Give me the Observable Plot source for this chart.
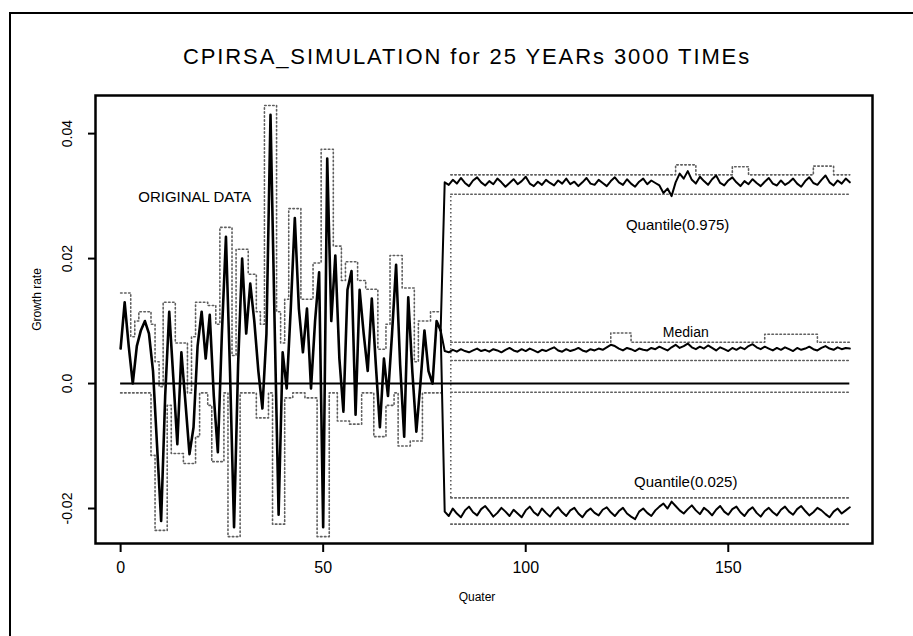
<!DOCTYPE html>
<html>
<head>
<meta charset="utf-8">
<script src="https://cdn.jsdelivr.net/npm/d3@7"></script>
<script src="https://cdn.jsdelivr.net/npm/@observablehq/plot@0.6"></script>
<style>
  body { margin: 0; background: #fff; font-family: "Liberation Sans", Arial, sans-serif; }
  #wrap { position: relative; width: 913px; height: 636px; overflow: hidden; background: #fff; }
  #border { position: absolute; left: 9px; top: 12px; width: 1000px; height: 700px;
            border-left: 2px solid #000; border-top: 2px solid #000; pointer-events: none; }
  #title { position: absolute; left: 0; top: 44px; width: 934px; text-align: center;
           font-size: 22px; line-height: 26px; letter-spacing: 1.9px; color: #000; }
  #chart { position: absolute; left: 0; top: 0; }
</style>
</head>
<body>
<div id="wrap">
  <div id="border"></div>
  <div id="chart"></div>
  <div id="title">CPIRSA_SIMULATION for 25 YEARs 3000 TIMEs</div>
</div>
<script>
// ---------------- DATA ----------------
// Original quarterly growth rate, quarters 0..79
const original = [
  0.0056, 0.0130, 0.0060, 0.0000, 0.0060, 0.0085, 0.0100, 0.0080, 0.0020, -0.0100,
  -0.0220, -0.0020, 0.0115, 0.0010, -0.0097, 0.0050, -0.0030, -0.0113, -0.0070, 0.0060,
  0.0115, 0.0040, 0.0110, -0.0020, -0.0110, 0.0080, 0.0235, 0.0020, -0.0230, 0.0030,
  0.0200, 0.0080, 0.0160, 0.0100, 0.0020, -0.0040, 0.0080, 0.0430, 0.0100, -0.0210,
  0.0050, -0.0008, 0.0120, 0.0265, 0.0120, 0.0050, 0.0120, -0.0008, 0.0100, 0.0178,
  -0.0230, 0.0360, 0.0100, 0.0205, 0.0040, -0.0045, 0.0150, 0.0180, -0.0050, 0.0150,
  0.0080, 0.0020, 0.0136, 0.0030, -0.0070, 0.0040, -0.0020, 0.0080, 0.0190, 0.0030,
  -0.0085, 0.0138, 0.0020, -0.0077, 0.0000, 0.0085, 0.0020, 0.0000, 0.0100, 0.0085
];
// Dotted band around original data (upper / lower), quarters 0..79
const originalHi = [
  0.0145, 0.0145, 0.0145, 0.0075, 0.0100, 0.0115, 0.0115, 0.0115, 0.0095, 0.0035,
  -0.0005, 0.0130, 0.0130, 0.0130, 0.0065, 0.0065, 0.0065, -0.0015, 0.0075, 0.0130,
  0.0130, 0.0130, 0.0125, 0.0125, 0.0095, 0.0250, 0.0250, 0.0250, 0.0045, 0.0215,
  0.0215, 0.0215, 0.0175, 0.0175, 0.0115, 0.0095, 0.0445, 0.0445, 0.0445, 0.0115,
  0.0065, 0.0135, 0.0280, 0.0280, 0.0280, 0.0135, 0.0135, 0.0135, 0.0193, 0.0193,
  0.0375, 0.0375, 0.0375, 0.0220, 0.0220, 0.0165, 0.0195, 0.0195, 0.0195, 0.0165,
  0.0165, 0.0151, 0.0151, 0.0151, 0.0055, 0.0055, 0.0095, 0.0205, 0.0205, 0.0205,
  0.0153, 0.0153, 0.0153, 0.0035, 0.0100, 0.0100, 0.0100, 0.0115, 0.0115, 0.0115
];
const originalLo = [
  -0.0015, -0.0015, -0.0015, -0.0015, -0.0015, -0.0015, -0.0015, -0.0015, -0.0115, -0.0235,
  -0.0235, -0.0235, -0.0035, -0.0112, -0.0112, -0.0112, -0.0128, -0.0128, -0.0128, -0.0085,
  -0.0015, -0.0015, -0.0035, -0.0125, -0.0125, -0.0125, -0.0015, -0.0245, -0.0245, -0.0245,
  -0.0015, -0.0015, -0.0015, -0.0015, -0.0055, -0.0055, -0.0055, -0.0015, -0.0225, -0.0225,
  -0.0225, -0.0023, -0.0023, -0.0015, -0.0015, -0.0015, -0.0023, -0.0023, -0.0023, -0.0245,
  -0.0245, -0.0245, -0.0015, -0.0015, -0.0060, -0.0060, -0.0060, -0.0065, -0.0065, -0.0065,
  -0.0015, -0.0015, -0.0015, -0.0085, -0.0085, -0.0085, -0.0035, -0.0035, -0.0015, -0.0100,
  -0.0100, -0.0100, -0.0092, -0.0092, -0.0092, -0.0015, -0.0015, -0.0015, -0.0015, -0.0015
];

// Simulation, quarters 80..180
const simStartQuarter = 80;
const quantile975 = [
  0.0322, 0.0318, 0.0326, 0.0320, 0.0329, 0.0321, 0.0316, 0.0325, 0.0330, 0.0322,
  0.0317, 0.0324, 0.0319, 0.0328, 0.0322, 0.0315, 0.0321, 0.0327, 0.0319, 0.0324,
  0.0331, 0.0320, 0.0316, 0.0323, 0.0318, 0.0326, 0.0321, 0.0317, 0.0325, 0.0320,
  0.0328, 0.0319, 0.0323, 0.0316, 0.0322, 0.0329, 0.0320, 0.0318, 0.0326, 0.0321,
  0.0316, 0.0324, 0.0330, 0.0322, 0.0318, 0.0327, 0.0320, 0.0315, 0.0323, 0.0328,
  0.0319, 0.0325, 0.0321, 0.0317, 0.0305, 0.0312, 0.0300, 0.0322, 0.0336, 0.0328,
  0.0340, 0.0326, 0.0320, 0.0331, 0.0324, 0.0318, 0.0327, 0.0333, 0.0321, 0.0317,
  0.0325, 0.0330, 0.0322, 0.0316, 0.0324, 0.0319, 0.0327, 0.0321, 0.0316, 0.0323,
  0.0329, 0.0320, 0.0317, 0.0325, 0.0318, 0.0322, 0.0328, 0.0320, 0.0315, 0.0324,
  0.0330, 0.0321, 0.0318, 0.0326, 0.0333, 0.0322, 0.0317, 0.0325, 0.0320, 0.0328,
  0.0322
];
const median = [
  0.0052, 0.0050, 0.0054, 0.0051, 0.0055, 0.0052, 0.0050, 0.0053, 0.0056, 0.0052,
  0.0054, 0.0051, 0.0055, 0.0053, 0.0050, 0.0054, 0.0057, 0.0053, 0.0051, 0.0055,
  0.0052, 0.0056, 0.0053, 0.0050, 0.0054, 0.0052, 0.0055, 0.0058, 0.0053, 0.0051,
  0.0055, 0.0052, 0.0054, 0.0057, 0.0053, 0.0051, 0.0055, 0.0053, 0.0056, 0.0054,
  0.0058, 0.0062, 0.0060, 0.0056, 0.0053, 0.0057, 0.0055, 0.0052, 0.0056, 0.0054,
  0.0053, 0.0057, 0.0055, 0.0059, 0.0056, 0.0053, 0.0058, 0.0062, 0.0057, 0.0060,
  0.0064, 0.0058, 0.0055, 0.0059, 0.0056, 0.0061, 0.0057, 0.0053, 0.0058, 0.0055,
  0.0052, 0.0057, 0.0054, 0.0058, 0.0055, 0.0060, 0.0063, 0.0058, 0.0055, 0.0059,
  0.0056, 0.0053, 0.0057, 0.0054, 0.0058, 0.0055, 0.0052, 0.0057, 0.0054, 0.0056,
  0.0059, 0.0055, 0.0053, 0.0057, 0.0060, 0.0056, 0.0054, 0.0058, 0.0055, 0.0057,
  0.0056
];
const quantile025 = [
  -0.0205, -0.0212, -0.0200, -0.0208, -0.0214, -0.0203, -0.0197, -0.0206, -0.0211, -0.0201,
  -0.0196, -0.0204, -0.0213, -0.0207, -0.0199, -0.0205, -0.0212, -0.0202, -0.0208, -0.0214,
  -0.0203, -0.0197, -0.0206, -0.0211, -0.0200, -0.0207, -0.0213, -0.0204, -0.0198, -0.0206,
  -0.0212, -0.0203, -0.0199, -0.0208, -0.0214, -0.0205, -0.0200, -0.0207, -0.0211, -0.0202,
  -0.0198, -0.0206, -0.0212, -0.0204, -0.0199, -0.0208, -0.0213, -0.0217, -0.0205, -0.0200,
  -0.0207, -0.0212, -0.0203, -0.0197, -0.0192, -0.0200, -0.0189, -0.0196, -0.0203, -0.0208,
  -0.0201, -0.0195, -0.0203, -0.0209, -0.0199, -0.0204, -0.0211, -0.0202, -0.0196, -0.0205,
  -0.0210, -0.0201, -0.0197, -0.0206, -0.0212, -0.0203, -0.0198, -0.0207, -0.0213, -0.0204,
  -0.0199, -0.0206, -0.0211, -0.0202, -0.0197, -0.0205, -0.0210, -0.0201, -0.0196, -0.0204,
  -0.0211, -0.0206, -0.0199, -0.0203, -0.0209, -0.0214, -0.0205, -0.0200, -0.0208, -0.0203,
  -0.0198
];

// Dotted simulation bands (step knots: quarter, value)
const q975HiQ = [81.5, 137, 142, 151, 155, 171, 176, 180];
const q975HiV = [0.0334, 0.0350, 0.0334, 0.0347, 0.0334, 0.0348, 0.0334, 0.0334];
const q975LoQ = [81.5, 180];
const q975LoV = [0.0303, 0.0303];
const medHiQ = [81.5, 121, 126, 159, 172, 180];
const medHiV = [0.0066, 0.0081, 0.0066, 0.0079, 0.0066, 0.0066];
const medLoQ = [81.5, 180];
const medLoV = [0.0037, 0.0037];
const zeroBandQ = [81.5, 180];
const zeroBandV = [-0.0014, -0.0014];
const q025HiQ = [81.5, 180];
const q025HiV = [-0.0183, -0.0183];
const q025LoQ = [81.5, 180];
const q025LoV = [-0.0225, -0.0225];

const zeroLineRange = [0, 180];
const xTicks = [0, 50, 100, 150];
const yTicks = [0.04, 0.02, 0, -0.02];
const yTickLabels = ["0.04", "0.02", "0.0", "-0.02"];

// ---------------- BUILD ----------------
const lastQ = original.length - 1;
const simTable = (arr) => [{q: lastQ, v: original[lastQ]}].concat(arr.map((v, i) => ({q: simStartQuarter + i, v})));
const knots = (Q, V) => Q.map((q, i) => ({q, v: V[i]}));

const dotted = {stroke: "#5f5f5f", strokeWidth: 1.6, strokeDasharray: "1.5,2.5"};
const bandLine = (Q, V) => Plot.line(knots(Q, V), {x: "q", y: "v", curve: "step-after", ...dotted});

const chart = Plot.plot({
  width: 913,
  height: 636,
  marginTop: 95,
  marginRight: 41,
  marginBottom: 93,
  marginLeft: 95,
  x: {domain: [-6.2, 185.6]},
  y: {domain: [-0.0256, 0.0461]},
  style: {fontFamily: "'Liberation Sans', Arial, sans-serif", background: "transparent", color: "#000"},
  marks: [
    // bands around original data
    Plot.line(originalHi, {x: (d, i) => i, y: d => d, curve: "step", ...dotted}),
    Plot.line(originalLo, {x: (d, i) => i, y: d => d, curve: "step", ...dotted}),
    // bands around simulation
    bandLine(q975HiQ, q975HiV),
    bandLine(q975LoQ, q975LoV),
    bandLine(medHiQ, medHiV),
    bandLine(medLoQ, medLoV),
    bandLine(zeroBandQ, zeroBandV),
    bandLine(q025HiQ, q025HiV),
    bandLine(q025LoQ, q025LoV),
    Plot.ruleX([q975LoQ[0]], {y1: q025HiV[0], y2: q975LoV[0], ...dotted}),
    // zero line
    Plot.ruleY([0], {x1: zeroLineRange[0], x2: zeroLineRange[1], stroke: "#000", strokeWidth: 2}),
    // original data
    Plot.line(original, {x: (d, i) => i, y: d => d, stroke: "#000", strokeWidth: 2.6}),
    // simulated quantiles
    Plot.line(simTable(quantile975), {x: "q", y: "v", stroke: "#000", strokeWidth: 2}),
    Plot.line(simTable(median), {x: "q", y: "v", stroke: "#000", strokeWidth: 2}),
    Plot.line(simTable(quantile025), {x: "q", y: "v", stroke: "#000", strokeWidth: 2}),
    // annotations
    Plot.text(["ORIGINAL DATA"], {x: 18.3, y: 0.0299, fontSize: 15}),
    Plot.text(["Quantile(0.975)"], {x: 137.5, y: 0.0253, fontSize: 15}),
    Plot.text(["Median"], {x: 139.5, y: 0.0082, fontSize: 14}),
    Plot.text(["Quantile(0.025)"], {x: 139.5, y: -0.0158, fontSize: 15}),
    // frame & axes
    Plot.frame({stroke: "#000", strokeWidth: 2.5}),
    Plot.axisX(xTicks, {tickSize: 9, tickPadding: 9, fontSize: 16, strokeWidth: 2, label: null}),
    Plot.axisY(yTicks, {tickSize: 7, strokeWidth: 2, tickFormat: () => "", label: null}),
    Plot.text(yTicks, {frameAnchor: "left", y: d => d, text: (d, i) => yTickLabels[i], rotate: -90,
                       dx: -28, fontSize: 14, textAnchor: "middle", lineAnchor: "middle"}),
    Plot.text(["Growth rate"], {frameAnchor: "left", dx: -58, dy: -20, rotate: -90, fontSize: 12,
                                textAnchor: "middle", lineAnchor: "middle"}),
    Plot.text(["Quater"], {frameAnchor: "bottom", dx: -7, dy: 54, fontSize: 12,
                           textAnchor: "middle", lineAnchor: "middle"})
  ]
});
document.getElementById("chart").appendChild(chart);
</script>
</body>
</html>
